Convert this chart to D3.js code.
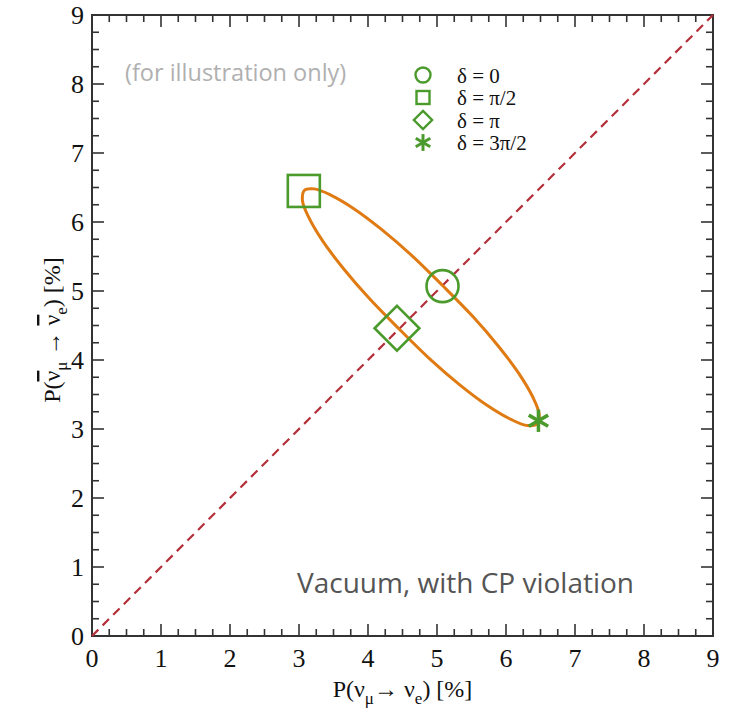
<!DOCTYPE html>
<html>
<head>
<meta charset="utf-8">
<script src="https://cdn.jsdelivr.net/npm/d3@7"></script>
<style>
  body { margin: 0; background: #fff; }
  svg text { font-family: "Liberation Serif", "Times New Roman", serif; }
</style>
</head>
<body>
<svg id="canvas" width="731" height="714"></svg>
<script>
// Data (percent)
const ticks = [0, 1, 2, 3, 4, 5, 6, 7, 8, 9];
const diagonal = [[0, 0], [9, 9]];
// ellipse points, going round from delta = 0 in 15 degree steps
const ellipseX = [5.08, 4.64, 4.20, 3.80, 3.46, 3.22, 3.08, 3.05, 3.14, 3.34, 3.64, 4.02,
                  4.45, 4.89, 5.33, 5.73, 6.07, 6.31, 6.46, 6.48, 6.39, 6.19, 5.89, 5.51];
const ellipseY = [5.08, 5.51, 5.89, 6.19, 6.39, 6.48, 6.46, 6.31, 6.07, 5.73, 5.33, 4.89,
                  4.45, 4.02, 3.64, 3.34, 3.14, 3.05, 3.08, 3.22, 3.46, 3.80, 4.20, 4.64];
// markers for the four delta values
const markerNames = ["δ = 0", "δ = π/2", "δ = π", "δ = 3π/2"];
const markerX = [5.08, 3.07, 4.42, 6.47];
const markerY = [5.07, 6.45, 4.46, 3.12];
const markerKind = ["circle", "square", "diamond", "star"];

const svg = d3.select("#canvas");
const margin = {left: 92, top: 15, right: 18, bottom: 78};
const W = 731 - margin.left - margin.right;
const H = 714 - margin.top - margin.bottom;

const x = d3.scaleLinear().domain([0, 9]).range([margin.left, margin.left + W]);
const y = d3.scaleLinear().domain([0, 9]).range([margin.top + H, margin.top]);

const green = "#4a9a2c";
const minor = d3.range(0, 9.01, 0.25);

// ticks on all four sides, pointing inward
const tickG = svg.append("g").attr("stroke", "#333").attr("stroke-width", 1.6);
minor.forEach(v => {
  const len = Number.isInteger(v) ? 12 : 7;
  tickG.append("line").attr("x1", x(v)).attr("x2", x(v)).attr("y1", y(0)).attr("y2", y(0) - len);
  tickG.append("line").attr("x1", x(v)).attr("x2", x(v)).attr("y1", y(9)).attr("y2", y(9) + len);
  tickG.append("line").attr("y1", y(v)).attr("y2", y(v)).attr("x1", x(0)).attr("x2", x(0) + len);
  tickG.append("line").attr("y1", y(v)).attr("y2", y(v)).attr("x1", x(9)).attr("x2", x(9) - len);
});

svg.append("rect")
  .attr("x", x(0)).attr("y", y(9))
  .attr("width", x(9) - x(0)).attr("height", y(0) - y(9))
  .attr("fill", "none").attr("stroke", "#333").attr("stroke-width", 2);

// tick labels
svg.append("g").selectAll("text").data(ticks).join("text")
  .attr("x", d => x(d)).attr("y", y(0) + 31)
  .attr("text-anchor", "middle").attr("font-size", 26).attr("fill", "#111")
  .text(d => d);
svg.append("g").selectAll("text").data(ticks).join("text")
  .attr("x", x(0) - 8).attr("y", d => y(d) + 9)
  .attr("text-anchor", "end").attr("font-size", 26).attr("fill", "#111")
  .text(d => d);

// axis titles
const xt = svg.append("text")
  .attr("x", x(4.5)).attr("y", 697)
  .attr("text-anchor", "middle").attr("font-size", 24).attr("fill", "#111");
xt.append("tspan").text("P(ν");
xt.append("tspan").attr("font-size", 17).attr("dy", 7).text("μ");
xt.append("tspan").attr("dy", -7).text("→ ν");
xt.append("tspan").attr("font-size", 17).attr("dy", 7).text("e");
xt.append("tspan").attr("dy", -7).text(") [%]");

const yt = svg.append("text")
  .attr("transform", `translate(60,330) rotate(-90)`)
  .attr("text-anchor", "middle").attr("font-size", 24).attr("fill", "#111");
yt.append("tspan").text("P(");
yt.append("tspan").attr("text-decoration", "overline").text("ν");
yt.append("tspan").attr("font-size", 17).attr("dy", 7).text("μ");
yt.append("tspan").attr("dy", -7).text(" → ");
yt.append("tspan").attr("text-decoration", "overline").text("ν");
yt.append("tspan").attr("font-size", 17).attr("dy", 7).text("e");
yt.append("tspan").attr("dy", -7).text(") [%]");

// diagonal dashed line
svg.append("path")
  .attr("d", d3.line().x(d => x(d[0])).y(d => y(d[1]))(diagonal))
  .attr("fill", "none").attr("stroke", "#b3303b")
  .attr("stroke-width", 2.2).attr("stroke-dasharray", "9,6");

// ellipse
const pts = ellipseX.map((v, i) => [v, ellipseY[i]]);
svg.append("path")
  .attr("d", d3.line().curve(d3.curveCatmullRomClosed.alpha(0.5)).x(d => x(d[0])).y(d => y(d[1]))(pts))
  .attr("fill", "none").attr("stroke", "#e07a12").attr("stroke-width", 3);

// marker drawing
function marker(g, kind, size) {
  if (kind === "circle") {
    g.append("circle").attr("r", size).attr("fill", "none").attr("stroke", green);
  } else if (kind === "square") {
    g.append("rect").attr("x", -size).attr("y", -size).attr("width", 2 * size).attr("height", 2 * size)
      .attr("fill", "none").attr("stroke", green);
  } else if (kind === "diamond") {
    const s = size * 1.4;
    g.append("path").attr("d", `M0,${-s}L${s},0L0,${s}L${-s},0Z`).attr("fill", "none").attr("stroke", green);
  } else {
    const s = size * 0.7;
    [0, 60, 120].forEach(a => {
      g.append("line").attr("x1", 0).attr("y1", -s).attr("x2", 0).attr("y2", s)
        .attr("transform", `rotate(${a})`).attr("stroke", green);
    });
  }
}

markerKind.forEach((k, i) => {
  const g = svg.append("g").attr("transform", `translate(${x(markerX[i])},${y(markerY[i])})`)
    .attr("stroke-width", k === "star" ? 3.5 : 2.6);
  marker(g, k, 16);
});

// legend
const legSize = [7.5, 6.5, 6.5, 12];
const leg = svg.append("g").attr("transform", "translate(423,75)");
markerNames.forEach((name, i) => {
  const g = leg.append("g").attr("transform", `translate(0,${i * 22.5})`)
    .attr("stroke-width", markerKind[i] === "star" ? 3 : 2.4);
  marker(g, markerKind[i], legSize[i]);
  leg.append("text").attr("x", 34).attr("y", i * 22.5 + 7.5)
    .attr("font-size", 21).attr("fill", "#111").text(name);
});

// notes
svg.append("text").attr("x", 125).attr("y", 81)
  .style("font-family", "'Open Sans', sans-serif").attr("font-size", 23.5).attr("fill", "#b0b0b0")
  .text("(for illustration only)");
svg.append("text").attr("x", 634).attr("y", 593).attr("text-anchor", "end")
  .style("font-family", "'Open Sans', sans-serif").attr("font-size", 28).attr("fill", "#555")
  .text("Vacuum, with CP violation");
</script>
</body>
</html>
